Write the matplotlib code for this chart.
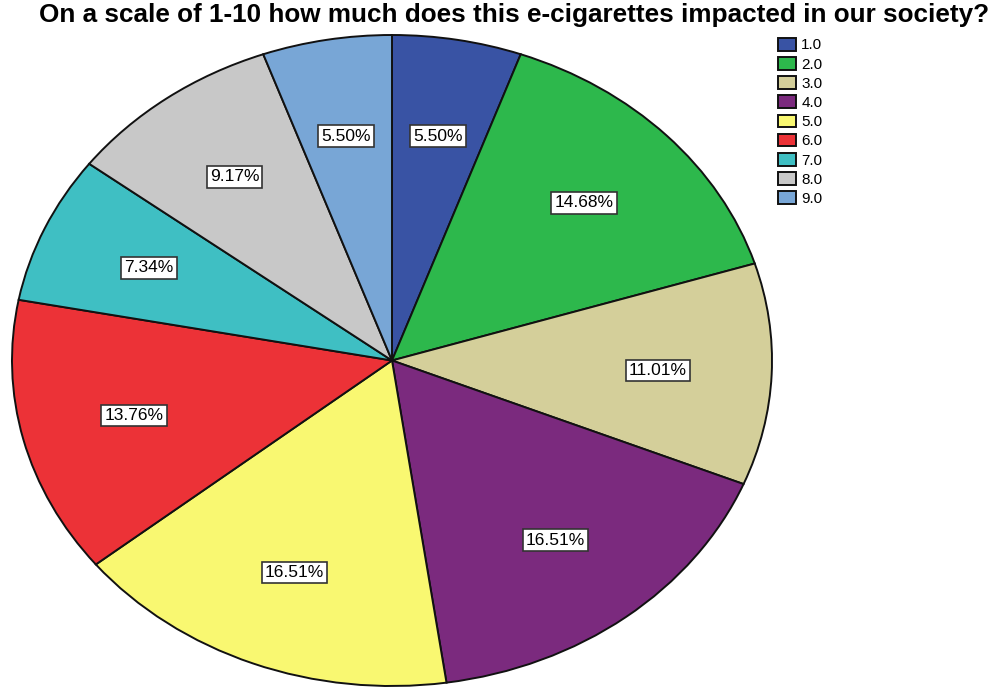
import matplotlib.pyplot as plt

plt.rcParams['font.family'] = ['Liberation Sans', 'DejaVu Sans']

labels = ['1.0', '2.0', '3.0', '4.0', '5.0', '6.0', '7.0', '8.0', '9.0']
percents = [5.50, 14.68, 11.01, 16.51, 16.51, 13.76, 7.34, 9.17, 5.50]
colors = ['#3953a4', '#2db84c', '#d4cf9a', '#7b2a7e', '#f9f871',
          '#ec3237', '#3fbfc3', '#c8c8c8', '#78a6d6']

fig = plt.figure(figsize=(9.97, 6.88), dpi=100)
ax = fig.add_axes([12 / 997, 2 / 688, 760 / 997, 651 / 688])

# pie squeezed into an ellipse, slices clockwise from 12 o'clock
wedges, texts, autotexts = ax.pie(
    percents, colors=colors, startangle=90, counterclock=False,
    autopct='%.2f%%', pctdistance=0.7,
    wedgeprops=dict(edgecolor='#111111', linewidth=1.4),
    textprops=dict(fontsize=12.5))
for t in autotexts:
    t.set_bbox(dict(boxstyle='square,pad=0.18', facecolor='white',
                    edgecolor='#333333', linewidth=1.2))

ax.set_aspect('auto')
ax.set_xlim(-1, 1)
ax.set_ylim(-1, 1)

fig.text(0.5155, 0.978, 'On a scale of 1-10 how much does this e-cigarettes impacted in our society?',
         ha='center', va='center', fontsize=18.8, fontweight='bold')

fig.legend(wedges, labels, loc='upper left', bbox_to_anchor=(0.780, 0.945),
           frameon=False, fontsize=11, handlelength=1.2, handleheight=0.9,
           handletextpad=0.35, labelspacing=0.3, borderpad=0, borderaxespad=0)

fig.savefig('out.png', dpi=100)
